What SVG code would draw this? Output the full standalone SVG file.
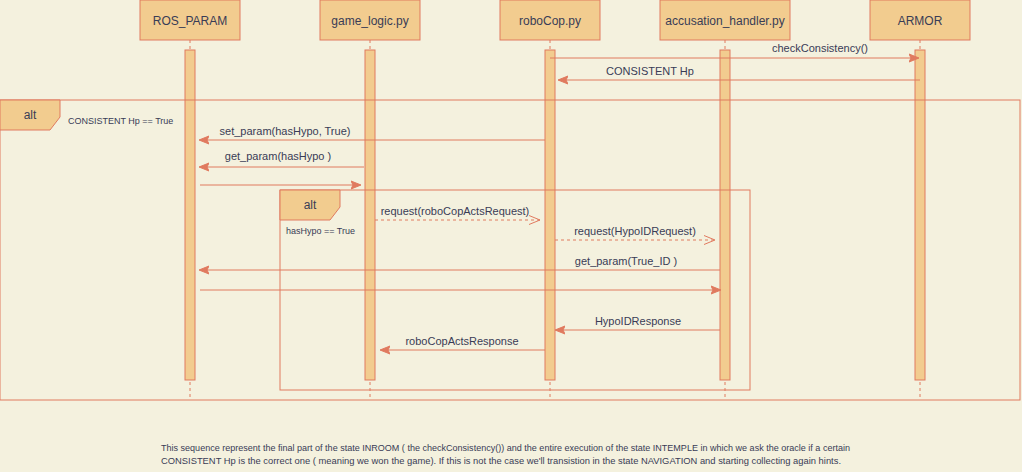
<svg xmlns="http://www.w3.org/2000/svg" width="1022" height="472" viewBox="0 0 1022 472">
<defs>
<style>
.bg{fill:#F4F1DE}
.box{fill:#F2CC8F;stroke:#E07A5F;stroke-width:1}
.life{stroke:#E07A5F;stroke-width:1;stroke-dasharray:3 3;fill:none}
.frame{fill:none;stroke:#E07A5F;stroke-width:1}
.msg{stroke:#E07A5F;stroke-width:1;fill:none}
.dash{stroke-dasharray:3 3}
.t{font-family:"Liberation Sans",Arial,sans-serif;fill:#393C56}
.h{font-size:12px;text-anchor:middle}
.m{font-size:11px;text-anchor:middle}
.c{font-size:9px}
</style>
<marker id="fa" viewBox="0 0 10 10" refX="9" refY="5" markerWidth="10" markerHeight="10" markerUnits="userSpaceOnUse" orient="auto">
<path d="M0,1 L10,5 L0,9 L2,5 Z" fill="#E07A5F" stroke="#E07A5F" stroke-width="1"/>
</marker>
<marker id="oa" viewBox="0 0 12 10" refX="11" refY="5" markerWidth="12" markerHeight="10" markerUnits="userSpaceOnUse" orient="auto">
<path d="M0,0.5 L11,5 L0,9.5" fill="none" stroke="#E07A5F" stroke-width="1"/>
</marker>
</defs>
<rect class="bg" x="0" y="0" width="1022" height="472"/>

<g id="ros_param">
<rect class="box" x="140" y="0" width="100" height="40"/>
<text class="t h" x="190" y="25">ROS_PARAM</text>
<line class="life" x1="190" y1="40" x2="190" y2="400"/>
<rect class="box" x="185" y="50" width="10" height="330"/>
</g>
<g id="game_logic">
<rect class="box" x="320" y="0" width="100" height="40"/>
<text class="t h" x="370" y="25">game_logic.py</text>
<line class="life" x1="370" y1="40" x2="370" y2="400"/>
<rect class="box" x="365" y="50" width="10" height="330"/>
</g>
<g id="robocop">
<rect class="box" x="500" y="0" width="100" height="40"/>
<text class="t h" x="550" y="25">roboCop.py</text>
<line class="life" x1="550" y1="40" x2="550" y2="400"/>
<rect class="box" x="545" y="50" width="10" height="330"/>
</g>
<g id="accusation_handler">
<rect class="box" x="660" y="0" width="130" height="40"/>
<text class="t h" x="725" y="25">accusation_handler.py</text>
<line class="life" x1="725" y1="40" x2="725" y2="400"/>
<rect class="box" x="720" y="50" width="10" height="330"/>
</g>
<g id="armor">
<rect class="box" x="870" y="0" width="100" height="40"/>
<text class="t h" x="920" y="25">ARMOR</text>
<line class="life" x1="920" y1="40" x2="920" y2="400"/>
<rect class="box" x="915" y="50" width="10" height="330"/>
</g>

<g id="alt_outer">
<rect class="frame" x="0" y="100" width="1020" height="300"/>
<path class="box" d="M0,100 L60,100 L60,117 L50,130 L0,130 Z"/>
<text class="t h" x="30" y="119">alt</text>
<text class="t c" x="68" y="124">CONSISTENT Hp == True</text>
</g>
<g id="alt_inner">
<rect class="frame" x="280" y="190" width="470" height="200"/>
<path class="box" d="M280,190 L340,190 L340,207 L330,220 L280,220 Z"/>
<text class="t h" x="310" y="209">alt</text>
<text class="t c" x="286" y="234">hasHypo == True</text>
</g>

<g id="connectors">
<line class="msg" x1="550" y1="58" x2="918" y2="58" marker-end="url(#fa)"/>
<text class="t m" x="820" y="52">checkConsistency()</text>
<line class="msg" x1="920" y1="80" x2="559" y2="80" marker-end="url(#fa)"/>
<text class="t m" x="650" y="75">CONSISTENT Hp</text>
<line class="msg" x1="545" y1="140" x2="200" y2="140" marker-end="url(#fa)"/>
<text class="t m" x="285" y="135">set_param(hasHypo, True)</text>
<line class="msg" x1="364" y1="167" x2="200" y2="167" marker-end="url(#fa)"/>
<text class="t m" x="278" y="160">get_param(hasHypo )</text>
<line class="msg" x1="200" y1="185" x2="360" y2="185" marker-end="url(#fa)"/>
<line class="msg dash" x1="375" y1="220" x2="540" y2="220" marker-end="url(#oa)"/>
<text class="t m" x="455" y="215">request(roboCopActsRequest)</text>
<line class="msg dash" x1="555" y1="240" x2="715" y2="240" marker-end="url(#oa)"/>
<text class="t m" x="635" y="235">request(HypoIDRequest)</text>
<line class="msg" x1="720" y1="270" x2="200" y2="270" marker-end="url(#fa)"/>
<text class="t m" x="626" y="265">get_param(True_ID )</text>
<line class="msg" x1="200" y1="290" x2="720" y2="290" marker-end="url(#fa)"/>
<line class="msg" x1="720" y1="330" x2="556" y2="330" marker-end="url(#fa)"/>
<text class="t m" x="638" y="325">HypoIDResponse</text>
<line class="msg" x1="545" y1="350" x2="381" y2="350" marker-end="url(#fa)"/>
<text class="t m" x="462" y="345">roboCopActsResponse</text>
</g>

<g id="note">
<text class="t c" x="161" y="451" textLength="689" lengthAdjust="spacingAndGlyphs">This sequence represent the final part of the state INROOM ( the checkConsistency()) and the entire execution of the state INTEMPLE in which we ask the oracle if a certain</text>
<text class="t c" x="161" y="464" textLength="680" lengthAdjust="spacingAndGlyphs">CONSISTENT Hp is the correct one ( meaning we won the game). If this is not the case we'll transistion in the state NAVIGATION and starting collecting again hints.</text>
</g>
</svg>
